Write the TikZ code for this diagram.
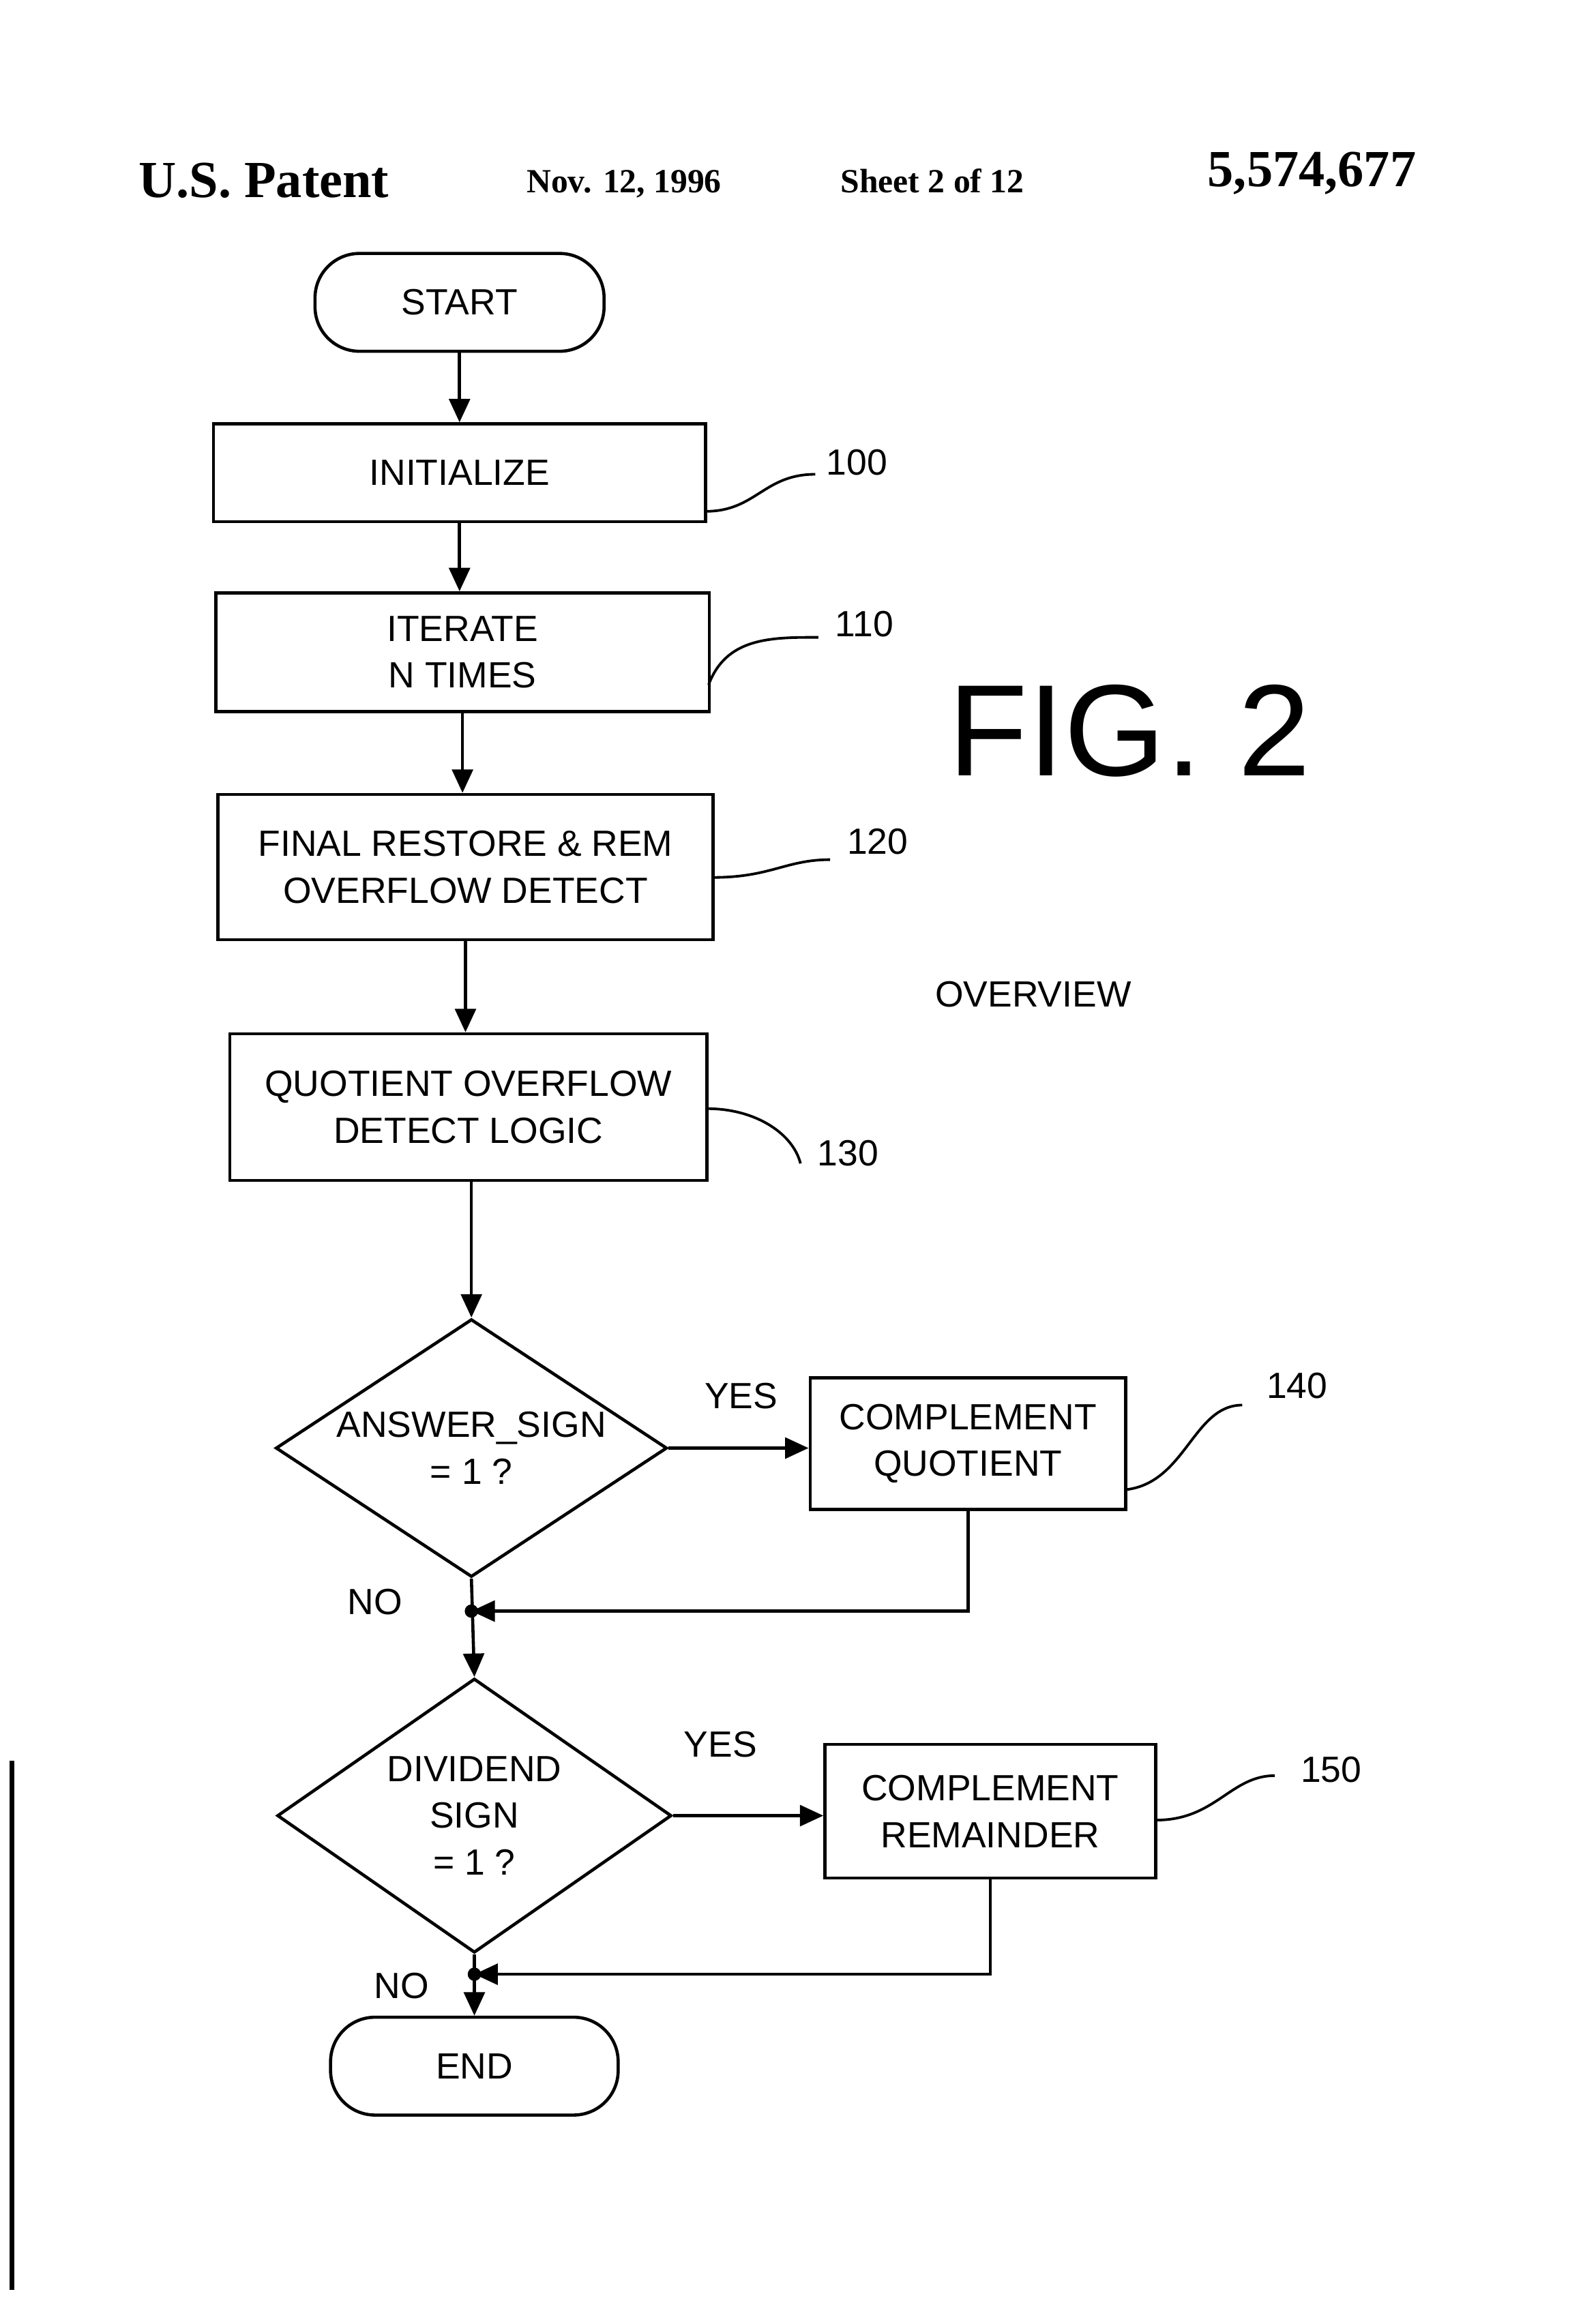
\documentclass[tikz,border=0pt]{standalone}
\usepackage{fontspec}
\setmainfont{Liberation Sans}
\newfontfamily\serifpat{Liberation Serif}
\usetikzlibrary{shapes.geometric,arrows.meta}
\begin{document}
\begin{tikzpicture}[x=0.02cm,y=-0.02cm,
  box/.style={draw,line width=1.2pt,rectangle,align=center,font=\fontsize{14}{18}\selectfont,inner sep=0pt},
  term/.style={draw,line width=1.2pt,rounded corners=0.6cm,align=center,font=\fontsize{14}{18}\selectfont,inner sep=0pt},
  dia/.style={draw,line width=1.2pt,diamond,aspect=1.5,align=center,font=\fontsize{14}{18}\selectfont,inner sep=0pt},
  lab/.style={font=\fontsize{14}{18}\selectfont},
  arr/.style={line width=1.2pt,-{Triangle[length=9pt,width=8pt]}},
  lead/.style={line width=1pt}]
\useasboundingbox (0,0) rectangle (1067.5,1568);
\node[font=\serifpat\bfseries\fontsize{20}{24}\selectfont] (h1) at (178,122) {U.S. Patent};
\node[font=\serifpat\bfseries\fontsize{13}{16}\selectfont] (h2) at (421,124) {Nov. 12, 1996};
\node[font=\serifpat\bfseries\fontsize{13}{16}\selectfont] (h3) at (629,122) {Sheet 2 of 12};
\node[font=\serifpat\bfseries\fontsize{20}{24}\selectfont] (h4) at (885,117) {5,574,677};

\node[term,minimum width=195*0.02cm,minimum height=66*0.02cm] (start) at (310,204) {START};
\node[box,minimum width=332*0.02cm,minimum height=66*0.02cm] (init) at (310,319) {INITIALIZE};
\node[box,minimum width=333*0.02cm,minimum height=80*0.02cm] (iter) at (312,440) {ITERATE\\N TIMES};
\node[box,minimum width=334*0.02cm,minimum height=98*0.02cm] (fin) at (314,585) {FINAL RESTORE \& REM\\OVERFLOW DETECT};
\node[box,minimum width=322*0.02cm,minimum height=99*0.02cm] (quo) at (316,747) {QUOTIENT OVERFLOW\\DETECT LOGIC};
\node[dia,minimum width=264*0.02cm,minimum height=174*0.02cm] (d1) at (318,977) {ANSWER\_SIGN\\= 1 ?};
\node[box,minimum width=213*0.02cm,minimum height=89*0.02cm] (cq) at (653,974) {COMPLEMENT\\QUOTIENT};
\coordinate (j1) at (318,1087);
\node[dia,minimum width=266*0.02cm,minimum height=185*0.02cm] (d2) at (320,1225) {DIVIDEND\\SIGN\\= 1 ?};
\node[box,minimum width=223*0.02cm,minimum height=90*0.02cm] (cr) at (668,1222) {COMPLEMENT\\REMAINDER};
\coordinate (j2) at (320,1332);
\node[term,minimum width=194*0.02cm,minimum height=66*0.02cm] (end) at (320,1394) {END};

\draw[arr] (start.south) -- (start.south |- init.north);
\draw[arr] (init.south -| start.south) -- (start.south |- iter.north);
\draw[arr] (iter.south) -- (iter.south |- fin.north);
\draw[arr] (fin.south) -- (fin.south |- quo.north);
\draw[arr] (quo.south -| d1.north) -- (d1.north);
\draw[arr] (d1.east) -- (d1.east -| cq.west);
\draw[arr] (d1.south) -- (d2.north);
\draw[arr] (cq.south) |- (j1);
\fill (j1) circle (4.5);
\draw[arr] (d2.east) -- (d2.east -| cr.west);
\draw[arr] (d2.south) -- (end.north);
\draw[arr] (cr.south) |- (j2);
\fill (j2) circle (4.5);

\node[lab] (yes1) at (500,942) {YES};
\node[lab] (no1) at (253,1081) {NO};
\node[lab] (yes2) at (486,1177) {YES};
\node[lab] (no2) at (271,1340) {NO};

\node[lab] (n100) at (578,312) {100};
\node[lab] (n110) at (583,421) {110};
\node[lab] (n120) at (592,568) {120};
\node[lab] (n130) at (572,778) {130};
\node[lab] (n140) at (875,935) {140};
\node[lab] (n150) at (898,1194) {150};
\draw[lead] (476,345) .. controls (510,345) and (515,320) .. (550,320);
\draw[lead] (478,462) .. controls (490,430) and (520,430) .. (552,430);
\draw[lead] (481,592) .. controls (520,592) and (530,580) .. (560,580);
\draw[lead] (477,748) .. controls (510,748) and (535,765) .. (540,785);
\draw[lead] (760,1005) .. controls (800,1000) and (805,948) .. (838,948);
\draw[lead] (780,1228) .. controls (820,1228) and (830,1198) .. (860,1198);

\node[font=\fontsize{50}{56}\selectfont] (fig) at (762,493) {FIG. 2};
\node[lab] (ov) at (697,671) {OVERVIEW};
\draw[line width=2pt] (8,1188) -- (8,1545);
\end{tikzpicture}
\end{document}
